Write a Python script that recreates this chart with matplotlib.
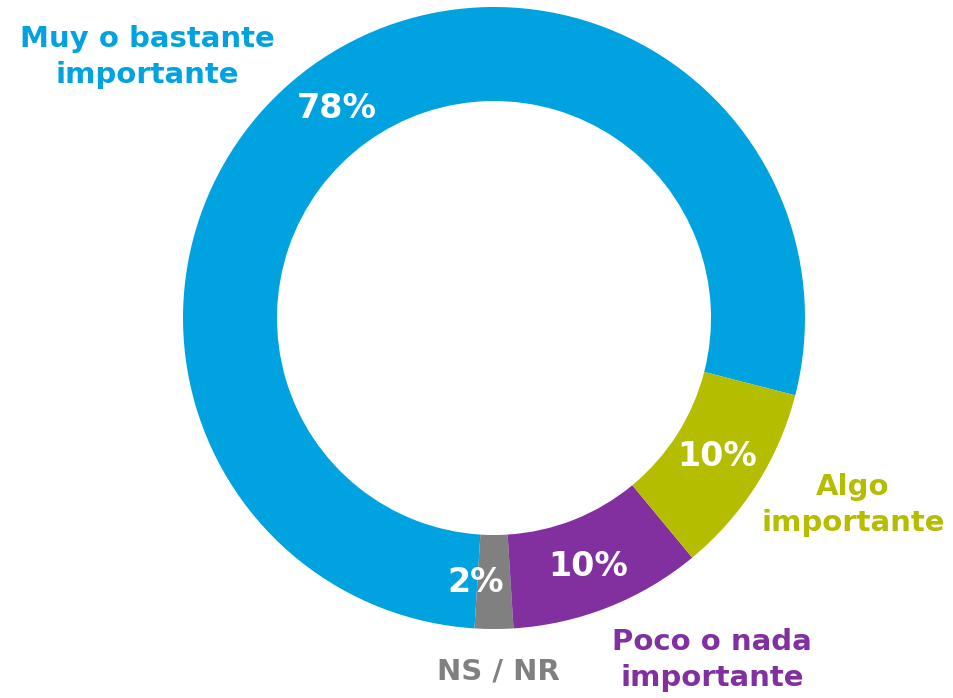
import matplotlib
matplotlib.use('Agg')
import matplotlib.pyplot as plt

# Data (counterclockwise from the blue/olive boundary)
categories = ['Muy o bastante\nimportante', 'NS / NR', 'Poco o nada\nimportante', 'Algo\nimportante']
values = [78, 2, 10, 10]
colors = ['#00A3E0', '#808080', '#8230A0', '#B5BD00']

fig = plt.figure(figsize=(9.54, 6.98), dpi=100)
ax = fig.add_axes([0, 0, 1, 1])
ax.set_aspect('equal')
ax.axis('off')

cx, cy, r_out, r_in = 494, 380, 311, 217
wedges, _ = ax.pie(values, colors=colors, startangle=-14.4, counterclock=True,
                   center=(cx, cy), radius=r_out,
                   wedgeprops=dict(width=r_out - r_in, edgecolor='none'))
ax.set_xlim(0, 954)
ax.set_ylim(0, 698)

font = dict(family='DejaVu Sans', fontweight='bold')

# percentage labels inside the ring
pct_pos = [(337, 108), (476, 583), (588, 567), (717, 457)]
for v, (x, y) in zip(values, pct_pos):
    ax.text(x, 698 - y, f'{v}%', color='white', fontsize=24, ha='center', va='center', **font)

# category labels outside
lab_pos = [(147, 57), (498, 672), (712, 660), (853, 505)]
for lab, col, (x, y) in zip(categories, colors, lab_pos):
    ax.text(x, 698 - y, lab, color=col, fontsize=21, ha='center', va='center',
            linespacing=1.35, **font)

fig.savefig('out.png', dpi=100)
